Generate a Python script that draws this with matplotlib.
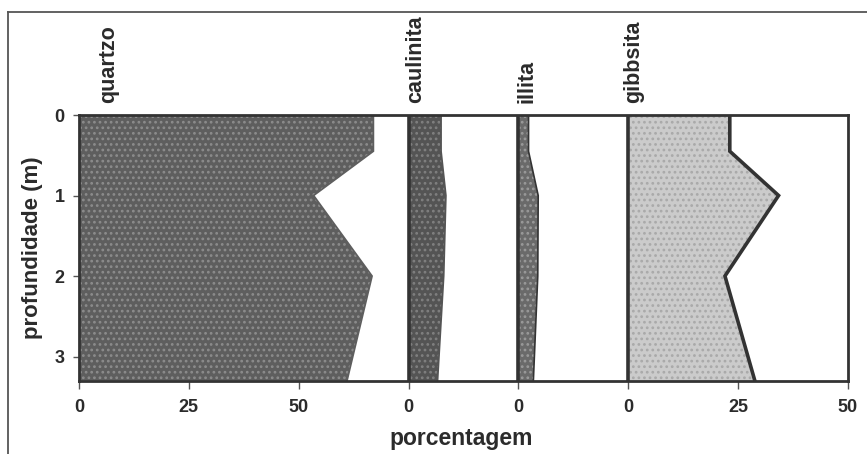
import matplotlib
matplotlib.use("Agg")
import matplotlib.pyplot as plt
from matplotlib.transforms import blended_transform_factory
from matplotlib.lines import Line2D

plt.rcParams['font.family'] = ['Liberation Sans', 'DejaVu Sans']
plt.rcParams['hatch.linewidth'] = 1.2

# depth profile (m) and mineral percentages at each depth
depth = [0.0, 0.45, 1.0, 2.0, 3.3]
quartzo = [67.0, 67.0, 53.4, 66.7, 61.0]
caulinita = [7.4, 7.4, 8.5, 8.0, 6.6]
illita = [2.3, 2.3, 4.5, 4.4, 3.4]
gibbsita = [23.1, 23.1, 34.2, 22.0, 28.8]

minerals = ["quartzo", "caulinita", "illita", "gibbsita"]
panel_start = [0, 75, 100, 125]      # left edge of each mineral column on the shared axis
panel_ticks = [[0, 25, 50], [0], [0], [0, 25, 50]]
depth_ticks = [0, 1, 2, 3]

TXT = "#2b2b2b"
LINE = "#333333"

fig = plt.figure(figsize=(8.67, 4.54), dpi=100)
ax = fig.add_axes([79 / 867, 1 - 380.7 / 454, (848 - 79) / 867, (380.7 - 115) / 454])

styles = [
    dict(facecolor="#5e5e5e", edgecolor="#8c8c8c", hatch="..."),
    dict(facecolor="#545454", edgecolor="#808080", hatch="..."),
    dict(facecolor="#6a6a6a", edgecolor="#9a9a9a", hatch="..."),
    dict(facecolor="#cbcbcb", edgecolor="#a9a9a9", hatch="..."),
]
edge_colors = ["#5e5e5e", "#545454", LINE, LINE]
edge_widths = [1.2, 1.2, 1.2, 2.6]

series = [quartzo, caulinita, illita, gibbsita]
for vals, x0, st, ec, ew in zip(series, panel_start, styles, edge_colors, edge_widths):
    right = [x0 + v for v in vals]
    ax.fill_betweenx(depth, x0, right, linewidth=0, **st)
    ax.plot(right, depth, color=ec, lw=ew, solid_joinstyle="miter")

# column baselines
for x0 in panel_start[1:]:
    ax.axvline(x0, color=LINE, lw=2.6)

ax.set_xlim(0, 175)
ax.set_ylim(3.3, 0)

xt, xl = [], []
for x0, ticks in zip(panel_start, panel_ticks):
    for t in ticks:
        xt.append(x0 + t)
        xl.append(str(t))
ax.set_xticks(xt)
ax.set_xticklabels(xl)
ax.set_yticks(depth_ticks)
ax.set_yticklabels([str(d) for d in depth_ticks])

ax.tick_params(axis="x", direction="out", length=5.5, width=1.0, color="#555555",
               pad=8, labelsize=13, labelcolor=TXT)
ax.tick_params(axis="y", direction="out", length=4.5, width=1.0, color="#555555",
               pad=6, labelsize=13, labelcolor=TXT)
for lab in ax.get_xticklabels() + ax.get_yticklabels():
    lab.set_fontweight("bold")

for sp in ax.spines.values():
    sp.set_color(LINE)
    sp.set_linewidth(2.0)

# mineral names above each column
trans = blended_transform_factory(ax.transData, ax.transAxes)
label_x = [6.7, 76.7, 101.9, 126.3]
for name, lx in zip(minerals, label_x):
    ax.text(lx, 1.045, name, transform=trans, rotation=90, ha="center", va="bottom",
            fontsize=15.5, fontweight="bold", color=TXT)

fig.text(461 / 867, 1 - 438 / 454, "porcentagem", ha="center", va="center",
         fontsize=16.5, fontweight="bold", color=TXT)
fig.text(33 / 867, 1 - 248 / 454, "profundidade (m)", ha="center", va="center",
         rotation=90, fontsize=16, fontweight="bold", color=TXT)

# outer frame (top and left edges)
fig.add_artist(Line2D([8 / 867, 8 / 867], [0, 1 - 12 / 454], transform=fig.transFigure,
                      color="#555555", lw=1.3))
fig.add_artist(Line2D([8 / 867, 1], [1 - 12 / 454, 1 - 12 / 454], transform=fig.transFigure,
                      color="#555555", lw=1.3))

fig.savefig("out.png", dpi=100)
